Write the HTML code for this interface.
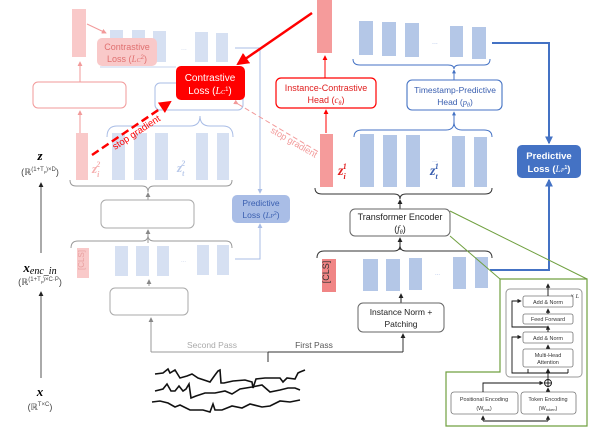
<!DOCTYPE html>
<html><head><meta charset="utf-8"><style>
html,body{margin:0;padding:0;background:#fff}
svg{display:block}
text{font-family:"Liberation Sans",sans-serif}
.s{font-family:"Liberation Serif",serif;font-style:italic}
</style></head><body>
<svg width="601" height="436" viewBox="0 0 601 436" xmlns="http://www.w3.org/2000/svg">
<defs>
<marker id="ag" viewBox="0 0 6 6" refX="5" refY="3" markerWidth="5" markerHeight="5" orient="auto"><path d="M0,0L6,3L0,6z" fill="#888"/></marker>
<marker id="ak" viewBox="0 0 6 6" refX="5" refY="3" markerWidth="5" markerHeight="5" orient="auto"><path d="M0,0L6,3L0,6z" fill="#222"/></marker>
<marker id="ar" viewBox="0 0 6 6" refX="5" refY="3" markerWidth="5" markerHeight="5" orient="auto"><path d="M0,0L6,3L0,6z" fill="#f00"/></marker>
<marker id="arl" viewBox="0 0 6 6" refX="5" refY="3" markerWidth="5" markerHeight="5" orient="auto"><path d="M0,0L6,3L0,6z" fill="#f29a9a"/></marker>
<marker id="ab" viewBox="0 0 6 6" refX="5" refY="3" markerWidth="4" markerHeight="4" orient="auto"><path d="M0,0L6,3L0,6z" fill="#4472c4"/></marker>
<marker id="abl" viewBox="0 0 6 6" refX="5" refY="3" markerWidth="5" markerHeight="5" orient="auto"><path d="M0,0L6,3L0,6z" fill="#a9bde6"/></marker>
</defs>

<!-- ===== faded second-pass column ===== -->
<rect x="72" y="9" width="14" height="48" fill="#f9c9c9"/>
<line x1="87" y1="24" x2="106" y2="33" stroke="#f29a9a" marker-end="url(#arl)"/>
<g fill="#d6e0f2">
<rect x="110" y="30" width="13" height="32"/><rect x="132" y="30" width="13" height="32"/><rect x="153" y="31" width="13" height="31"/>
<rect x="195" y="32" width="13" height="30"/><rect x="216" y="33" width="12" height="29"/>
</g>
<text x="181" y="50" font-size="7" fill="#c8d2e8">...</text>
<rect x="97" y="38" width="60" height="28" rx="5" fill="#f9c9c9"/>
<text x="127" y="50" font-size="9" fill="#e07070" text-anchor="middle">Contrastive</text>
<text x="127" y="62" font-size="9" fill="#e07070" text-anchor="middle">Loss (<tspan class="s">L</tspan><tspan class="s" font-size="6">C</tspan><tspan font-size="6" dy="-3">2</tspan><tspan dy="3">)</tspan></text>
<line x1="100" y1="67" x2="176" y2="67" stroke="#c5d3ec"/>
<line x1="80" y1="108" x2="80" y2="62" stroke="#f29a9a" marker-end="url(#arl)"/>
<rect x="33" y="82" width="93" height="26" rx="5" fill="#fff" stroke="#f29a9a"/>
<line x1="80" y1="133" x2="80" y2="111" stroke="#f29a9a" marker-end="url(#arl)"/>
<rect x="155" y="83" width="88" height="27" rx="5" fill="#fff" stroke="#a9bde6"/>
<path d="M235,48 L260,48 L260,193" fill="none" stroke="#a9bde6" marker-end="url(#abl)"/>
<!-- stop gradient pink -->
<line x1="238" y1="104" x2="332" y2="160" stroke="#f29a9a" stroke-dasharray="5,3" marker-start="url(#arl)"/>
<text x="270" y="132" font-size="9" fill="#f29a9a" transform="rotate(30 270 132)">stop gradient</text>
<!-- Lc1 -->
<rect x="176" y="66" width="69" height="34" rx="5" fill="#f00"/>
<text x="210" y="81" font-size="10" fill="#fff" text-anchor="middle">Contrastive</text>
<text x="210" y="94" font-size="10" fill="#fff" text-anchor="middle">Loss (<tspan class="s">L</tspan><tspan class="s" font-size="6">C</tspan><tspan font-size="6" dy="-3">1</tspan><tspan dy="3">)</tspan></text>
<!-- mid second pass -->
<rect x="76" y="133" width="12" height="47" fill="#f9c9c9"/>
<text x="92" y="173" font-size="13" font-weight="bold" fill="#f6b0b0" class="s">z<tspan font-size="8" dy="4">i</tspan><tspan font-size="8" dx="-3" dy="-10">2</tspan></text>
<g fill="#d6e0f2">
<rect x="112" y="133" width="13" height="47"/><rect x="134" y="133" width="13" height="47"/><rect x="155" y="133" width="13" height="47"/>
<rect x="196" y="133" width="12" height="47"/><rect x="217" y="133" width="12" height="47"/>
</g>
<text x="177" y="172" font-size="13" font-weight="bold" fill="#b9c9ea" class="s">z<tspan font-size="8" dy="4">t</tspan><tspan font-size="8" dx="-3" dy="-10">2</tspan></text>
<path d="M107,137 Q107,126 117,126 L190,126 Q200,126 200,116 Q200,126 210,126 L223,126 Q233,126 233,137" fill="none" stroke="#a9bde6"/>
<!-- red dashed stop gradient -->
<line x1="92" y1="155" x2="170" y2="102" stroke="#f00" stroke-width="2.5" stroke-dasharray="8,4" marker-end="url(#ar)"/>
<text x="115" y="150" font-size="9.5" fill="#f00" transform="rotate(-33 115 150)">stop gradient</text>
<path d="M70,180 Q70,186 76,186 L142,186 Q148,186 148,192 Q148,186 154,186 L226,186 Q232,186 232,180" fill="none" stroke="#999"/>
<line x1="148" y1="200" x2="148" y2="193" stroke="#999" marker-end="url(#ag)"/>
<rect x="101" y="200" width="93" height="28" rx="5" fill="#fff" stroke="#aaa"/>
<line x1="148" y1="243" x2="148" y2="230" stroke="#999" marker-end="url(#ag)"/>
<path d="M71,248 Q71,241 78,241 L142,241 Q148,241 148,235 Q148,241 154,241 L226,241 Q232,241 232,248" fill="none" stroke="#999"/>
<rect x="77" y="248" width="12" height="30" fill="#f9c9c9"/>
<text x="87" y="263" font-size="8" fill="#e8a0a0" text-anchor="middle" transform="rotate(-90 84 263)">[CLS]</text>
<g fill="#d6e0f2">
<rect x="115" y="246" width="13" height="30"/><rect x="136" y="246" width="13" height="30"/><rect x="157" y="246" width="12" height="30"/>
<rect x="197" y="245" width="12" height="30"/><rect x="217" y="245" width="12" height="30"/>
</g>
<text x="181" y="262" font-size="6" fill="#c8d2e8">...</text>
<path d="M235,259 L260,259 L260,224" fill="none" stroke="#a9bde6" marker-end="url(#abl)"/>
<rect x="232" y="195" width="58" height="28" rx="5" fill="#a9bde6"/>
<text x="261" y="206" font-size="8.5" fill="#3a5fb0" text-anchor="middle">Predictive</text>
<text x="261" y="218" font-size="8.5" fill="#3a5fb0" text-anchor="middle">Loss (<tspan class="s">L</tspan><tspan class="s" font-size="6">P</tspan><tspan font-size="5" dy="-3">2</tspan><tspan dy="3">)</tspan></text>
<line x1="149" y1="286" x2="149" y2="280" stroke="#999" marker-end="url(#ag)"/>
<rect x="110" y="288" width="78" height="27" rx="5" fill="#fff" stroke="#aaa"/>
<path d="M151,352 L151,318" fill="none" stroke="#999" marker-end="url(#ag)"/>
<line x1="151" y1="352" x2="268" y2="352" stroke="#999"/>
<text x="212" y="348" font-size="8.5" fill="#aaa" text-anchor="middle">Second Pass</text>
<line x1="268" y1="352" x2="268" y2="362" stroke="#333"/>
<line x1="268" y1="352" x2="403" y2="352" stroke="#333"/>
<line x1="403" y1="352" x2="403" y2="334" stroke="#333" marker-end="url(#ak)"/>
<text x="314" y="348" font-size="8.5" fill="#555" text-anchor="middle">First Pass</text>

<!-- waves -->
<g fill="none" stroke="#111" stroke-width="1.6">
<path d="M155,374 L163,373 L168,369 L170,373 L175,370 L180,378 L187,376 L192,374 L198,378 L210,382 L215,375 L218,371 L220,370 L221,383 L224,383 L233,381 L245,380 L252,382 L253,388 L256,379 L265,378 L280,378 L283,382 L287,378 L295,379 L298,373 L300,372 L305,370"/>
<path d="M155,391 L163,389 L167,384 L171,391 L175,391 L179,386 L183,391 L186,389 L189,384 L191,398 L196,396 L205,393 L215,393 L225,391 L232,394 L240,389 L252,387 L262,385 L270,392 L280,390 L288,388 L295,388 L300,390"/>
<path d="M152,402 L160,401 L168,403 L175,407 L180,405 L190,410 L203,410 L210,412 L213,404 L215,410 L222,410 L232,406 L242,408 L250,404 L262,407 L270,406 L280,401 L290,402 L300,400"/>
</g>

<!-- left labels -->
<text x="40" y="160" font-size="13" font-weight="bold" class="s" text-anchor="middle">z</text>
<text x="40" y="175" font-size="9" fill="#444" text-anchor="middle">(ℝ<tspan font-size="6" dy="-4">(1+T</tspan><tspan font-size="4" dy="2">p</tspan><tspan font-size="6" dy="-2">)×D</tspan><tspan dy="4">)</tspan></text>
<line x1="41" y1="253" x2="41" y2="183" stroke="#555" marker-end="url(#ak)"/>
<text x="40" y="272" font-size="13" font-weight="bold" class="s" text-anchor="middle">x<tspan font-size="10" font-weight="normal" dy="2">enc_in</tspan></text>
<text x="40" y="285" font-size="9" fill="#444" text-anchor="middle">(ℝ<tspan font-size="6" dy="-4">(1+T</tspan><tspan font-size="4" dy="2">p</tspan><tspan font-size="6" dy="-2">)×C·P</tspan><tspan dy="4">)</tspan></text>
<line x1="41" y1="378" x2="41" y2="292" stroke="#555" marker-end="url(#ak)"/>
<text x="40" y="396" font-size="13" font-weight="bold" class="s" text-anchor="middle">x</text>
<text x="40" y="410" font-size="9" fill="#444" text-anchor="middle">(ℝ<tspan font-size="6" dy="-4">T×C</tspan><tspan dy="4">)</tspan></text>

<!-- ===== main first-pass column ===== -->
<rect x="317" y="0" width="15" height="53" fill="#f59b9b"/>
<line x1="312" y1="13" x2="238" y2="64" stroke="#f00" stroke-width="2.5" marker-end="url(#ar)"/>
<line x1="325" y1="78" x2="325" y2="56" stroke="#f00" marker-end="url(#ar)"/>
<rect x="276" y="78" width="100" height="30" rx="5" fill="#fff" stroke="#f00" stroke-width="1.2"/>
<text x="326" y="91" font-size="9" fill="#e02020" text-anchor="middle">Instance-Contrastive</text>
<text x="326" y="103" font-size="9" fill="#e02020" text-anchor="middle">Head (<tspan class="s">c</tspan><tspan class="s" font-size="6" dy="2">θ</tspan><tspan dy="-2">)</tspan></text>
<line x1="326" y1="133" x2="326" y2="110" stroke="#f00" marker-end="url(#ar)"/>
<rect x="320" y="134" width="13" height="53" fill="#f59b9b"/>
<text x="338" y="175" font-size="14" font-weight="bold" fill="#e02020" class="s">z<tspan font-size="8" dy="4">i</tspan><tspan font-size="8" dx="-3" dy="-10">1</tspan></text>

<g fill="#b4c7e7">
<rect x="359" y="21" width="14" height="34"/><rect x="382" y="22" width="14" height="34"/><rect x="405" y="23" width="14" height="34"/>
<rect x="450" y="26" width="13" height="31"/><rect x="472" y="27" width="14" height="32"/>
</g>
<text x="432" y="44" font-size="7" fill="#a9bde6">...</text>
<path d="M353,59 Q353,65 360,65 L448,65 Q454,65 454,69 Q454,65 460,65 L484,65 Q490,65 490,59" fill="none" stroke="#4472c4"/>
<line x1="454" y1="80" x2="454" y2="70" stroke="#4472c4" marker-end="url(#ab)"/>
<rect x="407" y="80" width="95" height="30" rx="5" fill="#fff" stroke="#4472c4" stroke-width="1.1"/>
<text x="455" y="93" font-size="8.5" fill="#3a5fb0" text-anchor="middle">Timestamp-Predictive</text>
<text x="455" y="105" font-size="8.5" fill="#3a5fb0" text-anchor="middle">Head (<tspan class="s">p</tspan><tspan class="s" font-size="6" dy="2">θ</tspan><tspan dy="-2">)</tspan></text>
<line x1="454" y1="125" x2="454" y2="112" stroke="#4472c4" marker-end="url(#ab)"/>
<path d="M354,137 Q354,130 362,130 L446,130 Q454,130 454,122 Q454,130 462,130 L484,130 Q492,130 492,137" fill="none" stroke="#4472c4"/>
<g fill="#b4c7e7">
<rect x="360" y="134" width="14" height="53"/><rect x="383" y="135" width="14" height="52"/><rect x="406" y="135" width="14" height="52"/>
<rect x="452" y="136" width="13" height="51"/><rect x="474" y="137" width="13" height="50"/>
</g>
<text x="432" y="162" font-size="7" fill="#a9bde6">...</text>
<text x="430" y="175" font-size="14" font-weight="bold" fill="#3a5fb0" class="s">z<tspan font-size="8" dy="4">t</tspan><tspan font-size="8" dx="-3" dy="-10">1</tspan></text>
<path d="M315,188 Q315,194 322,194 L394,194 Q400,194 400,199 Q400,194 406,194 L485,194 Q492,194 492,188" fill="none" stroke="#333"/>
<line x1="400" y1="209" x2="400" y2="200" stroke="#222" marker-end="url(#ak)"/>
<rect x="350" y="209" width="100" height="27" rx="5" fill="#fff" stroke="#666"/>
<text x="400" y="220" font-size="9" fill="#222" text-anchor="middle">Transformer Encoder</text>
<text x="400" y="232" font-size="9" fill="#222" text-anchor="middle">(<tspan class="s">f</tspan><tspan class="s" font-size="6" dy="2">θ</tspan><tspan dy="-2">)</tspan></text>
<line x1="400" y1="250" x2="400" y2="238" stroke="#222" marker-end="url(#ak)"/>
<path d="M317,258 Q317,251 324,251 L394,251 Q400,251 400,245 Q400,251 406,251 L485,251 Q492,251 492,258" fill="none" stroke="#333"/>
<rect x="322" y="259" width="14" height="33" fill="#f08585"/>
<text x="333" y="276" font-size="9" fill="#333" text-anchor="middle" transform="rotate(-90 329 276)">[CLS]</text>
<g fill="#b4c7e7">
<rect x="363" y="259" width="15" height="32"/><rect x="386" y="259" width="14" height="32"/><rect x="409" y="258" width="13" height="32"/>
<rect x="453" y="257" width="13" height="32"/><rect x="475" y="257" width="13" height="31"/>
</g>
<text x="435" y="275" font-size="6" fill="#a9bde6">...</text>
<line x1="401" y1="303" x2="401" y2="294" stroke="#222" marker-end="url(#ak)"/>
<rect x="358" y="303" width="86" height="29" rx="5" fill="#fff" stroke="#666"/>
<text x="401" y="315" font-size="8.5" fill="#222" text-anchor="middle">Instance Norm +</text>
<text x="401" y="327" font-size="8.5" fill="#222" text-anchor="middle">Patching</text>

<!-- predictive loss 1 -->
<path d="M492,43 L549,43 L549,143" fill="none" stroke="#4472c4" stroke-width="2" marker-end="url(#ab)"/>
<path d="M490,270 L549,270 L549,180" fill="none" stroke="#4472c4" stroke-width="2" marker-end="url(#ab)"/>
<rect x="517" y="145" width="64" height="33" rx="5" fill="#4472c4"/>
<text x="549" y="159" font-size="9.5" font-weight="bold" fill="#fff" text-anchor="middle">Predictive</text>
<text x="549" y="172" font-size="9.5" font-weight="bold" fill="#fff" text-anchor="middle">Loss (<tspan class="s" font-weight="normal">L</tspan><tspan class="s" font-size="6" font-weight="normal">P</tspan><tspan font-size="5" dy="-3">1</tspan><tspan dy="3">)</tspan></text>

<!-- green zoom box -->
<line x1="450" y1="211" x2="587" y2="279" stroke="#70a040"/>
<line x1="450" y1="236" x2="500" y2="279" stroke="#70a040"/>
<path d="M500,279 L587,279 L587,426 L446,426 L446,372 L500,372 Z" fill="#fff" stroke="#70a040" stroke-width="1.2"/>
<rect x="506" y="289" width="76" height="88" rx="4" fill="#fff" stroke="#999"/>
<text x="579" y="298" font-size="6" fill="#333" text-anchor="end">× <tspan class="s">L</tspan></text>
<g fill="#fff" stroke="#777" stroke-width="0.8">
<rect x="523" y="296" width="50" height="11" rx="2"/><rect x="523" y="314" width="50" height="10" rx="2"/>
<rect x="523" y="332" width="50" height="11" rx="2"/><rect x="523" y="349" width="50" height="18" rx="2"/>
<rect x="451" y="392" width="67" height="22" rx="3"/><rect x="521" y="392" width="55" height="22" rx="3"/>
</g>
<g font-size="5.5" fill="#333" text-anchor="middle">
<text x="548" y="304">Add &amp; Norm</text><text x="548" y="321">Feed Forward</text>
<text x="548" y="340">Add &amp; Norm</text><text x="548" y="357">Multi-Head</text><text x="548" y="364">Attention</text>
<text x="484" y="401">Positional Encoding</text><text x="484" y="410">(W<tspan font-size="4" dy="1">pos</tspan><tspan dy="-1">)</tspan></text>
<text x="548" y="401">Token Encoding</text><text x="548" y="410">(W<tspan font-size="4" dy="1">token</tspan><tspan dy="-1">)</tspan></text>
</g>
<g fill="none" stroke="#111" stroke-width="0.9">
<line x1="548" y1="296" x2="548" y2="284" marker-end="url(#ak)"/>
<line x1="548" y1="314" x2="548" y2="309" marker-end="url(#ak)"/>
<line x1="548" y1="332" x2="548" y2="326" marker-end="url(#ak)"/>
<line x1="548" y1="349" x2="548" y2="345" marker-end="url(#ak)"/>
<line x1="548" y1="379" x2="548" y2="369" marker-end="url(#ak)"/>
<path d="M548,327 L512,327 L512,301 L521,301" marker-end="url(#ak)"/>
<path d="M548,373 L512,373 L512,337 L521,337" marker-end="url(#ak)"/>
<path d="M528,373 L528,369" /><path d="M568,373 L568,369"/><path d="M548,373 L568,373"/>
<circle cx="548" cy="383" r="3.5"/><line x1="544.5" y1="383" x2="551.5" y2="383"/><line x1="548" y1="379.5" x2="548" y2="386.5"/>
<line x1="548" y1="392" x2="548" y2="388" marker-end="url(#ak)"/>
<path d="M483,392 L483,383 L543,383" marker-end="url(#ak)"/>
<path d="M483,421 L548,421"/><line x1="483" y1="421" x2="483" y2="416" marker-end="url(#ak)"/><line x1="548" y1="421" x2="548" y2="416" marker-end="url(#ak)"/>
</g>
</svg>
</body></html>
